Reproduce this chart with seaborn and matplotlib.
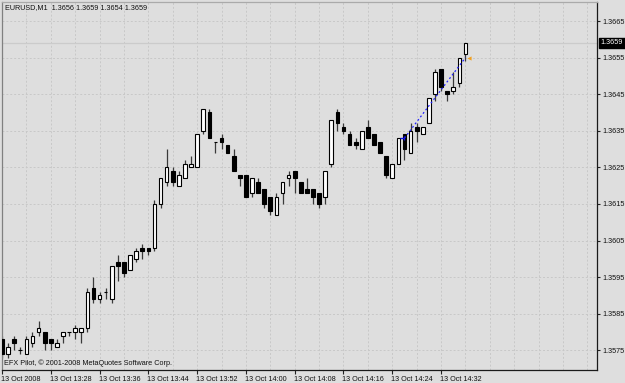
import numpy as np
import pandas as pd
import matplotlib
matplotlib.use("Agg")
import matplotlib.pyplot as plt
import matplotlib.transforms as mtransforms
import seaborn as sns

# ---------------- data ----------------
header = "EURUSD,M1  1.3656 1.3659 1.3654 1.3659"
footer = "EFX Pilot, \u00a9 2001-2008 MetaQuotes Software Corp."

opens = [1.3578, 1.3574, 1.3578, 1.3575, 1.3574, 1.3577, 1.3580, 1.3580, 1.3578, 1.3576,
         1.3579, 1.3580, 1.3580, 1.3580, 1.3581, 1.3592, 1.3589, 1.3591, 1.3589, 1.3599,
         1.3599, 1.3597, 1.3600, 1.3603, 1.3603, 1.3603, 1.3615, 1.3621, 1.3624, 1.3620,
         1.3622, 1.3625, 1.3625, 1.3635, 1.3640, 1.3632, 1.3633, 1.3631, 1.3628, 1.3623,
         1.3623, 1.3618, 1.3621, 1.3619, 1.3617, 1.3612, 1.3618, 1.3622, 1.3624, 1.3621,
         1.3619, 1.3619, 1.3618, 1.3617, 1.3626, 1.3640, 1.3636, 1.3634, 1.3632, 1.3630,
         1.3636, 1.3634, 1.3632, 1.3628, 1.3622, 1.3626, 1.3634, 1.3629, 1.3636, 1.3634,
         1.3637, 1.3645, 1.3652, 1.3646, 1.3646, 1.3648, 1.3656]
closes = [1.3574, 1.3576, 1.3577, 1.3575, 1.3578, 1.3579, 1.3581, 1.3577, 1.3577, 1.3577,
          1.3580, 1.3580, 1.3581, 1.3581, 1.3591, 1.3589, 1.3590, 1.3591, 1.3598, 1.3598,
          1.3596, 1.3601, 1.3602, 1.3602, 1.3602, 1.3615, 1.3622, 1.3625, 1.3621, 1.3623,
          1.3626, 1.3626, 1.3634, 1.3641, 1.3633, 1.3632, 1.3632, 1.3629, 1.3624, 1.3622,
          1.3617, 1.3622, 1.3618, 1.3615, 1.3613, 1.3617, 1.3621, 1.3623, 1.3622, 1.3618,
          1.3618, 1.3617, 1.3615, 1.3624, 1.3638, 1.3637, 1.3635, 1.3631, 1.3631, 1.3635,
          1.3633, 1.3631, 1.3629, 1.3623, 1.3626, 1.3633, 1.3630, 1.3635, 1.3635, 1.3636,
          1.3644, 1.3651, 1.3647, 1.3645, 1.3647, 1.3655, 1.3659]
highs = [1.3579, 1.3577, 1.3579, 1.3576, 1.3579, 1.3580, 1.3583, 1.3580, 1.3578, 1.3578,
         1.3580, 1.3580, 1.3582, 1.3581, 1.3592, 1.3595, 1.3591, 1.3592, 1.3598, 1.3601,
         1.3599, 1.3601, 1.3603, 1.3604, 1.3603, 1.3616, 1.3622, 1.3630, 1.3625, 1.3624,
         1.3627, 1.3628, 1.3634, 1.3641, 1.3641, 1.3632, 1.3634, 1.3631, 1.3630, 1.3623,
         1.3623, 1.3622, 1.3622, 1.3619, 1.3617, 1.3618, 1.3621, 1.3624, 1.3624, 1.3621,
         1.3622, 1.3619, 1.3618, 1.3624, 1.3638, 1.3641, 1.3637, 1.3635, 1.3633, 1.3635,
         1.3638, 1.3634, 1.3632, 1.3628, 1.3626, 1.3633, 1.3634, 1.3637, 1.3637, 1.3636,
         1.3644, 1.3652, 1.3652, 1.3646, 1.3651, 1.3655, 1.3659]
lows = [1.3573, 1.3573, 1.3575, 1.3574, 1.3574, 1.3576, 1.3579, 1.3575, 1.3575, 1.3576,
        1.3577, 1.3579, 1.3578, 1.3577, 1.3580, 1.3588, 1.3588, 1.3589, 1.3588, 1.3594,
        1.3595, 1.3597, 1.3599, 1.3600, 1.3601, 1.3602, 1.3614, 1.3620, 1.3620, 1.3620,
        1.3622, 1.3625, 1.3625, 1.3634, 1.3633, 1.3629, 1.3630, 1.3629, 1.3624, 1.3620,
        1.3617, 1.3617, 1.3618, 1.3614, 1.3612, 1.3612, 1.3615, 1.3620, 1.3618, 1.3618,
        1.3618, 1.3615, 1.3614, 1.3615, 1.3625, 1.3635, 1.3634, 1.3631, 1.3630, 1.3630,
        1.3633, 1.3631, 1.3629, 1.3622, 1.3622, 1.3626, 1.3627, 1.3629, 1.3632, 1.3634,
        1.3637, 1.3643, 1.3646, 1.3643, 1.3645, 1.3647, 1.3654]

xtick_bars = [0, 8, 16, 24, 32, 40, 48, 56, 64, 72]
xtick_labels = ["13 Oct 2008", "13 Oct 13:28", "13 Oct 13:36", "13 Oct 13:44",
                "13 Oct 13:52", "13 Oct 14:00", "13 Oct 14:08", "13 Oct 14:16",
                "13 Oct 14:24", "13 Oct 14:32"]
ytick_values = [1.3575, 1.3585, 1.3595, 1.3605, 1.3615, 1.3625, 1.3635, 1.3645, 1.3655, 1.3665]
last_price = 1.3659
trade_bars = [66, 76]
trade_prices = [1.3633, 1.3655]

# ---------------- style ----------------
BG = "#dedede"
sns.set_theme(style="white", rc={"axes.facecolor": BG, "figure.facecolor": BG})
plt.rcParams["font.family"] = ["Liberation Sans", "DejaVu Sans"]

df = pd.DataFrame({"open": opens, "high": highs, "low": lows, "close": closes})
df["bar"] = np.arange(len(df))
df["up"] = df["close"] >= df["open"]

W, H = 625, 383
fig = plt.figure(figsize=(W / 100, H / 100), dpi=100)
ax = fig.add_axes([2 / W, 1 - 370 / H, (597 - 2) / W, (370 - 2) / H])
ax.set_facecolor(BG)

# grid
for v in ytick_values:
    ax.axhline(v, color="#c8c8c8", lw=0.7, ls=(0, (2, 2)), zorder=0)
for b in range(0, 100, 4):
    ax.axvline(b, color="#c8c8c8", lw=0.7, ls=(0, (2, 2)), zorder=0)

# bid line
ax.axhline(last_price, color="#cbcbcb", lw=0.9, zorder=0.5)

# wicks
ax.vlines(df["bar"], df["low"], df["high"], color="#3a3a3a", lw=0.9, zorder=2)

# bodies
bw = 0.6
bottoms = np.minimum(df["open"], df["close"])
heights = np.abs(df["close"] - df["open"])
face = np.where(df["up"], "white", "black")
ax.bar(df["bar"], heights, bottom=bottoms, width=bw, color=face,
       edgecolor="black", linewidth=0.8, zorder=3)

# trade line
tdf = pd.DataFrame({"bar": trade_bars, "price": trade_prices})
sns.lineplot(data=tdf, x="bar", y="price", ax=ax, color="#2020ff",
             lw=0.9, ls=(0, (1.5, 2)), zorder=4)
ax.plot([trade_bars[0] - 0.35], [trade_prices[0]], marker="_", color="#1010ee",
        ms=3, mew=1.0, zorder=5)
ax.plot([trade_bars[0] - 0.1], [trade_prices[0]], marker="|", color="#1010ee",
        ms=2.5, mew=0.9, zorder=5)
ax.plot([trade_bars[1] + 0.5], [trade_prices[1]], marker="<", color="#f0a020",
        ms=3, mew=0, zorder=5)

# limits
ax.set_xlim(0.03, 97.57)
ax.set_ylim(1.35696, 1.36702)
ax.set_xlabel("")
ax.set_ylabel("")

# axes ticks
ax.set_xticks(xtick_bars)
ax.set_xticklabels(xtick_labels, ha="left", fontsize=5.2, color="#111111")
ax.tick_params(axis="x", direction="out", length=3, width=0.8, color="#222222",
               pad=1.5, bottom=True)
for lab in ax.get_xticklabels():
    lab.set_horizontalalignment("left")
offset = mtransforms.ScaledTranslation(-1 / 100, 0, fig.dpi_scale_trans)
for lab in ax.get_xticklabels():
    lab.set_transform(lab.get_transform() + offset)

ax.yaxis.tick_right()
ax.set_yticks(ytick_values)
ax.set_yticklabels([f"{v:.4f}" for v in ytick_values], fontsize=5.2, color="#111111")
ax.tick_params(axis="y", direction="out", length=2.5, width=0.8, color="#222222",
               pad=1.5, right=True, left=False)

# spines
for s in ax.spines.values():
    s.set_visible(True)
ax.spines["left"].set_color("#808080")
ax.spines["top"].set_color("#aaaaaa")
ax.spines["right"].set_color("#1a1a1a")
ax.spines["bottom"].set_color("#1a1a1a")
for s in ax.spines.values():
    s.set_linewidth(0.9)

# current price label
trans = mtransforms.blended_transform_factory(ax.transAxes, ax.transData)
ax.text(1.006, last_price, f"{last_price:.4f}", transform=trans, ha="left",
        va="center", fontsize=5.2, color="white", zorder=10, clip_on=False,
        bbox=dict(boxstyle="square,pad=0.25", fc="black", ec="black"))

# texts
fig.text(5 / W, 1 - 8 / H, header, ha="left", va="center", fontsize=5.2, color="#111111")
fig.text(4 / W, 1 - 363 / H, footer, ha="left", va="center", fontsize=5.2, color="#111111")

fig.savefig("out.png", dpi=100, facecolor=BG)
